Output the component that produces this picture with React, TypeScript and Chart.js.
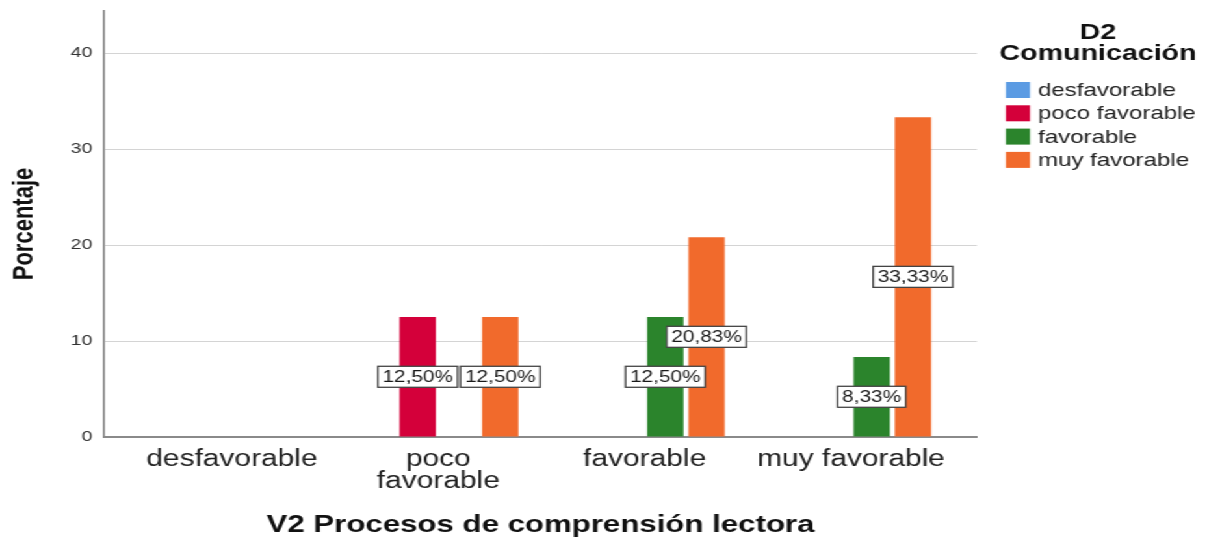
import React, { useEffect, useRef } from "react";
import { Chart, registerables } from "chart.js";

Chart.register(...registerables);

// The reference image is horizontally stretched; we draw at logical width and stretch with CSS.
const STRETCH = 1.3;
const CANVAS_W = 935;
const CANVAS_H = 540;
const FONT = "'Liberation Sans', Arial, sans-serif";

const categories: (string | string[])[] = ["desfavorable", ["poco", "favorable"], "favorable", "muy favorable"];
const seriesNames = ["desfavorable", "poco favorable", "favorable", "muy favorable"];
const seriesColors = ["#5b9be3", "#d4003a", "#2b842c", "#f16a2c"];
const desfavorableValues = [0, 0, 0, 0];
const pocoFavorableValues = [0, 12.5, 0, 0];
const favorableValues = [0, 0, 12.5, 8.33];
const muyFavorableValues = [0, 12.5, 20.83, 33.33];
const yTicks = [0, 10, 20, 30, 40];
const legendTitle = ["D2", "Comunicación"];
const xTitle = "V2 Procesos de comprensión lectora";
const yTitle = "Porcentaje";

const seriesValues = [desfavorableValues, pocoFavorableValues, favorableValues, muyFavorableValues];

const fmt = (v: number) => v.toFixed(2).replace(".", ",") + "%";

const labelPlugin = {
  id: "barLabels",
  afterDatasetsDraw(chart: any) {
    const ctx = chart.ctx;
    ctx.save();
    ctx.font = `16px ${FONT}`;
    ctx.textAlign = "center";
    ctx.textBaseline = "middle";
    chart.data.datasets.forEach((ds: any, i: number) => {
      const meta = chart.getDatasetMeta(i);
      meta.data.forEach((el: any, j: number) => {
        const v = ds.data[j].y;
        if (!v) return;
        const { x, y, base } = el.getProps(["x", "y", "base"], true);
        const cy = (y + base) / 2;
        const text = fmt(v);
        const tw = ctx.measureText(text).width;
        const w = tw + 7;
        const h = 21;
        ctx.fillStyle = "#ffffff";
        ctx.fillRect(x - w / 2, cy - h / 2, w, h);
        ctx.strokeStyle = "#444444";
        ctx.lineWidth = 1.3;
        ctx.strokeRect(x - w / 2, cy - h / 2, w, h);
        ctx.fillStyle = "#1a1a1a";
        ctx.fillText(text, x, cy + 1);
      });
    });
    ctx.restore();
  },
};

const legendPlugin = {
  id: "sideLegend",
  afterDraw(chart: any) {
    const ctx = chart.ctx;
    ctx.save();
    ctx.textBaseline = "middle";
    ctx.textAlign = "center";
    ctx.fillStyle = "#111111";
    ctx.font = `bold 22px ${FONT}`;
    const cx = 844.6;
    ctx.fillText(legendTitle[0], cx, 33);
    ctx.fillText(legendTitle[1], cx, 54);
    ctx.textAlign = "left";
    ctx.font = `18.5px ${FONT}`;
    chart.data.datasets.forEach((ds: any, i: number) => {
      const yc = 90 + i * 23.3;
      ctx.fillStyle = ds.backgroundColor;
      ctx.fillRect(773.8, yc - 8, 18.5, 16);
      ctx.fillStyle = "#222222";
      ctx.fillText(ds.label, 798.5, yc + 1);
    });
    ctx.restore();
  },
};

export default function App() {
  const ref = useRef<HTMLCanvasElement>(null);
  useEffect(() => {
    if (!ref.current) return;
    const chart = new Chart(ref.current, {
      type: "bar",
      data: {
        datasets: seriesNames.map((name, i) => ({
          label: name,
          data: seriesValues[i].map((v, j) => ({ x: j, y: v })),
          backgroundColor: seriesColors[i],
          borderWidth: 0,
          categoryPercentage: 0.8,
          barPercentage: 0.88,
        })),
      },
      options: {
        animation: false,
        responsive: false,
        devicePixelRatio: 1,
        layout: { padding: { top: 11, right: 183.5, left: 0, bottom: 0 } },
        plugins: { legend: { display: false }, tooltip: { enabled: false } },
        scales: {
          x: {
            type: "linear",
            offset: false,
            min: -0.62,
            max: 3.61,
            grid: { display: false, drawTicks: false, offset: false },
            border: { display: true, color: "#8a8a8a", width: 2 },
            ticks: {
              stepSize: 1,
              includeBounds: false,
              autoSkip: false,
              maxRotation: 0,
              minRotation: 0,
              padding: 12,
              color: "#222222",
              font: { family: FONT, size: 23, lineHeight: 0.95 },
              callback: (v: any) => (Number.isInteger(v) && categories[v] !== undefined ? categories[v] : ""),
            },
            title: {
              display: true,
              text: xTitle,
              color: "#111111",
              font: { family: FONT, size: 24, weight: "bold" },
              padding: { top: 2, bottom: 0 },
            },
            afterFit: (s: any) => {
              s.height = 103;
              s.paddingLeft = 0;
              s.paddingRight = 0;
            },
          },
          y: {
            type: "linear",
            min: 0,
            max: 44.4,
            grid: { display: true, color: "#d4d4d4", lineWidth: 1, drawTicks: false },
            border: { display: true, color: "#8a8a8a", width: 1.7 },
            ticks: {
              stepSize: 10,
              includeBounds: false,
              padding: 9,
              color: "#333333",
              font: { family: FONT, size: 15 },
              callback: (v: any) => (yTicks.includes(v) ? String(v) : ""),
            },
            title: {
              display: true,
              text: yTitle,
              color: "#111111",
              font: { family: FONT, size: 22, weight: "bold" },
              padding: { top: 6, bottom: 0 },
            },
            afterFit: (s: any) => {
              s.width = 80;
              s.paddingTop = 0;
              s.paddingBottom = 0;
            },
          },
        },
      },
      plugins: [labelPlugin, legendPlugin],
    } as any);
    return () => chart.destroy();
  }, []);

  return (
    <div
      style={{
        position: "fixed",
        left: 0,
        top: 0,
        width: CANVAS_W,
        height: CANVAS_H,
        transform: `scaleX(${STRETCH})`,
        transformOrigin: "0 0",
        background: "#ffffff",
      }}
    >
      <canvas ref={ref} width={CANVAS_W} height={CANVAS_H} style={{ display: "block" }} />
    </div>
  );
}
